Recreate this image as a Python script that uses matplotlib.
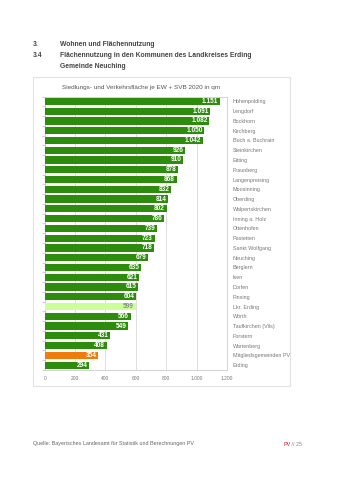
import matplotlib
matplotlib.use("Agg")
import matplotlib.pyplot as plt
from matplotlib.patches import Rectangle
import numpy as np

plt.rcParams['font.family'] = ['Liberation Sans', 'DejaVu Sans']

categories = ["Hohenpolding", "Lengdorf", "Bockhorn", "Kirchberg", "Buch a. Buchrain",
              "Steinkirchen", "Eitting", "Fraunberg", "Langenpreising", "Moosinning",
              "Oberding", "Walpertskirchen", "Inning a. Holz", "Ottenhofen", "Pastetten",
              "Sankt Wolfgang", "Neuching", "Berglern", "Isen", "Dorfen", "Finsing",
              "Lkr. Erding", "Wörth", "Taufkirchen (Vils)", "Forstern", "Wartenberg",
              "Mitgliedsgemeinden PV", "Erding"]
values = [1151, 1091, 1082, 1050, 1042, 926, 910, 878, 868, 832, 814, 802, 786, 739,
          723, 718, 679, 635, 621, 615, 604, 599, 566, 549, 431, 408, 354, 294]
xticks = [0, 200, 400, 600, 800, 1000, 1200]

GREEN = "#2e8c0c"
LIGHT = "#ccff99"
ORANGE = "#ef7d0c"
colors = []
for c in categories:
    if c == "Lkr. Erding":
        colors.append(LIGHT)
    elif c == "Mitgliedsgemeinden PV":
        colors.append(ORANGE)
    else:
        colors.append(GREEN)

W, H = 339, 480
fig = plt.figure(figsize=(W / 100, H / 100), dpi=100)

def fx(x):
    return x / W

def fy(y):
    return 1 - y / H

# frame
fig.patches.append(Rectangle((fx(32.7), fy(386)), fx(290) - fx(32.7), fy(77) - fy(386),
                             transform=fig.transFigure, fill=False, edgecolor="#e2e2e2", lw=0.8))

n = len(categories)
ax_left, ax_right = 44.7, 227.0
ax_top, ax_bottom = 96.5, 370.0
ax = fig.add_axes([fx(ax_left), fy(ax_bottom), fx(ax_right) - fx(ax_left), fy(ax_top) - fy(ax_bottom)])

y = np.arange(n)
ax.barh(y, values, height=0.74, color=colors, zorder=3)
ax.set_ylim(n - 0.5, -0.5)
ax.set_xlim(0, 1200)

def fmt(v):
    return f"{v:,}".replace(",", ".")

for i, (v, c) in enumerate(zip(values, colors)):
    tc = "#8a8a8a" if c == LIGHT else "white"
    ax.text(v - 10, i, fmt(v), ha="right", va="center", fontsize=4.7,
            fontweight="bold", color=tc, zorder=4)

ax.set_xticks(xticks)
ax.set_xticklabels([fmt(t) for t in xticks], fontsize=3.5, color="#777777")
ax.tick_params(axis="x", length=0, pad=4)
ax.grid(axis="x", color="#dddddd", lw=0.7, zorder=0)
ax.yaxis.tick_right()
ax.set_yticks(y)
ax.set_yticklabels(categories, fontsize=3.9, color="#777777")
ax.tick_params(axis="y", which="major", length=0, pad=4)
ax.set_yticks(np.arange(n + 1) - 0.5, minor=True)
ax.tick_params(axis="y", which="minor", left=True, right=False, length=2, color="#bbbbbb", width=0.5)
for s in ax.spines.values():
    s.set_color("#cccccc")
    s.set_linewidth(0.6)

# subtitle
fig.text(fx(62), fy(88), "Siedlungs- und Verkehrsfläche je EW + SVB 2020 in qm",
         fontsize=4.6, color="#555555", va="center", ha="left")

# header
hdr = dict(fontsize=4.9, fontweight="bold", color="#444444", va="center", ha="left")
fig.text(fx(33), fy(45), "3.", **hdr)
fig.text(fx(60), fy(45), "Wohnen und Flächennutzung", **hdr)
fig.text(fx(33), fy(55.5), "3.4", **hdr)
fig.text(fx(60), fy(55.5), "Flächennutzung in den Kommunen des Landkreises Erding", **hdr)
fig.text(fx(60), fy(66), "Gemeinde Neuching", **hdr)

# footer
fig.text(fx(33), fy(444), "Quelle: Bayerisches Landesamt für Statistik und Berechnungen PV",
         fontsize=3.9, color="#666666", va="center", ha="left")
fig.text(fx(283), fy(444), "PV", fontsize=3.9, color="#cc2233", va="center", ha="left")
fig.text(fx(289.5), fy(444), " // 25", fontsize=3.9, color="#888888", va="center", ha="left")

fig.savefig("out.png", dpi=100)
